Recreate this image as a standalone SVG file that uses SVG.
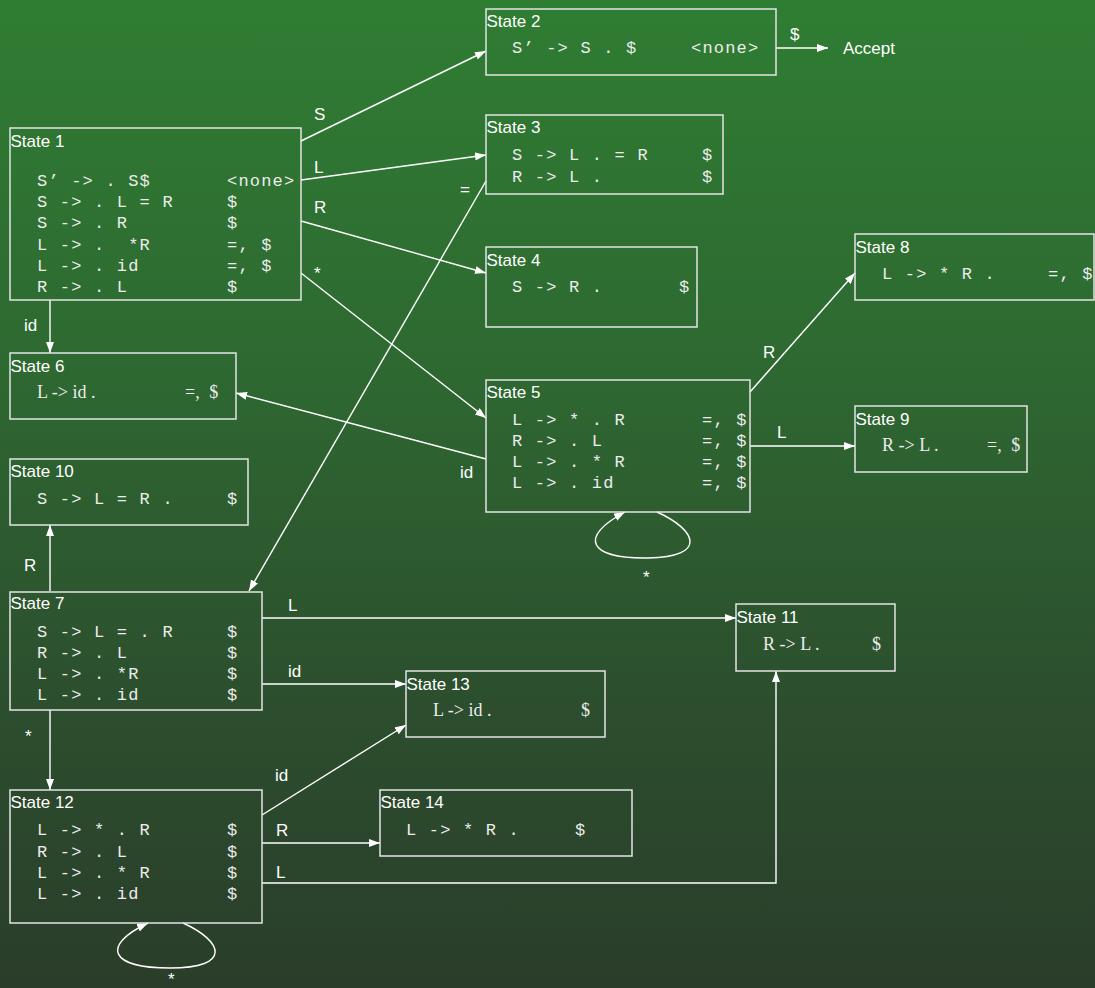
<svg xmlns="http://www.w3.org/2000/svg" width="1095" height="988" viewBox="0 0 1095 988" xml:space="preserve">
<defs>
<linearGradient id="bg" x1="0" y1="0" x2="0" y2="1">
<stop offset="0" stop-color="#2f7d33"/>
<stop offset="0.35" stop-color="#2e6a31"/>
<stop offset="0.7" stop-color="#2c4f2e"/>
<stop offset="1" stop-color="#2a3d2a"/>
</linearGradient>
<marker id="ah" markerUnits="userSpaceOnUse" markerWidth="12" markerHeight="8" refX="11" refY="4" orient="auto">
<path d="M0,0 L11,4 L0,8 z" fill="#ffffff"/>
</marker>
</defs>
<style>
.box{fill:none;stroke:#e4e4e4;stroke-width:1.5}
.title{font-family:"Liberation Sans",Arial,sans-serif;font-size:17px;fill:#ffffff}
.mono{font-family:"Liberation Mono","Courier New",monospace;font-size:17px;letter-spacing:1.2px;fill:#ececec;white-space:pre}
.serif{font-family:"Liberation Serif","Times New Roman",serif;font-size:18px;fill:#ececec;white-space:pre}
.lbl{font-family:"Liberation Sans",Arial,sans-serif;font-size:17px;fill:#ffffff}
.edge{fill:none;stroke:#ffffff;stroke-width:1.4;marker-end:url(#ah)}
</style>
<rect x="0" y="0" width="1095" height="988" fill="url(#bg)"/>

<g id="edges">
<line class="edge" x1="301" y1="141" x2="486" y2="51"/>
<line class="edge" x1="301" y1="180" x2="486" y2="155"/>
<line class="edge" x1="301" y1="221" x2="486" y2="273"/>
<line class="edge" x1="301" y1="273" x2="486" y2="418"/>
<line class="edge" x1="486" y1="459" x2="236" y2="393"/>
<line class="edge" x1="486" y1="181" x2="249" y2="591"/>
<line class="edge" x1="50" y1="300" x2="50" y2="353"/>
<line class="edge" x1="50" y1="591" x2="50" y2="525"/>
<line class="edge" x1="750" y1="392" x2="855" y2="273"/>
<line class="edge" x1="750" y1="446" x2="855" y2="446"/>
<line class="edge" x1="262" y1="618" x2="736" y2="618"/>
<line class="edge" x1="262" y1="684" x2="406" y2="684"/>
<line class="edge" x1="50" y1="710" x2="50" y2="790"/>
<line class="edge" x1="262" y1="815" x2="406" y2="725"/>
<line class="edge" x1="262" y1="843" x2="380" y2="843"/>
<polyline class="edge" points="262,883 776,883 776,671"/>
<line class="edge" x1="776" y1="48" x2="828" y2="48"/>
<path class="edge" d="M657,512 C697,530 708,557 648,558 C588,559 578,537 625,512"/>
<path class="edge" d="M183,923 C223,941 233,968 170,968 C110,968 100,946 148,923"/>
<text class="lbl" x="314" y="120">S</text>
<text class="lbl" x="314" y="173">L</text>
<text class="lbl" x="314" y="213">R</text>
<text class="lbl" x="314" y="279">*</text>
<text class="lbl" x="460" y="478">id</text>
<text class="lbl" x="460" y="195">=</text>
<text class="lbl" x="24" y="331">id</text>
<text class="lbl" x="24" y="571">R</text>
<text class="lbl" x="763" y="358">R</text>
<text class="lbl" x="777" y="438">L</text>
<text class="lbl" x="288" y="611">L</text>
<text class="lbl" x="288" y="677">id</text>
<text class="lbl" x="25" y="742">*</text>
<text class="lbl" x="275" y="781">id</text>
<text class="lbl" x="276" y="836">R</text>
<text class="lbl" x="276" y="878">L</text>
<text class="lbl" x="790" y="40">$</text>
<text class="lbl" x="843" y="54">Accept</text>
<text class="lbl" x="643" y="583">*</text>
<text class="lbl" x="168" y="985">*</text>
</g>

<g id="state1">
<rect class="box" x="10" y="128" width="291" height="172"/>
<text class="title" x="10.5" y="147">State 1</text>
<text class="mono" x="37" y="186">S’ -&gt; . S$</text>
<text class="mono" x="227" y="186">&lt;none&gt;</text>
<text class="mono" x="37" y="207">S -&gt; . L = R</text>
<text class="mono" x="227" y="207">$</text>
<text class="mono" x="37" y="228">S -&gt; . R</text>
<text class="mono" x="227" y="228">$</text>
<text class="mono" x="37" y="250">L -&gt; .  *R</text>
<text class="mono" x="227" y="250">=, $</text>
<text class="mono" x="37" y="271">L -&gt; . id</text>
<text class="mono" x="227" y="271">=, $</text>
<text class="mono" x="37" y="292">R -&gt; . L</text>
<text class="mono" x="227" y="292">$</text>
</g>

<g id="state2">
<rect class="box" x="486" y="9" width="290" height="66"/>
<text class="title" x="486.5" y="27">State 2</text>
<text class="mono" x="512" y="53">S’ -&gt; S . $</text>
<text class="mono" x="691" y="53">&lt;none&gt;</text>
</g>

<g id="state3">
<rect class="box" x="486" y="115" width="237" height="79"/>
<text class="title" x="486.5" y="133">State 3</text>
<text class="mono" x="512" y="160">S -&gt; L . = R</text>
<text class="mono" x="702" y="160">$</text>
<text class="mono" x="512" y="182">R -&gt; L .</text>
<text class="mono" x="702" y="182">$</text>
</g>

<g id="state4">
<rect class="box" x="486" y="247" width="211" height="80"/>
<text class="title" x="486.5" y="266">State 4</text>
<text class="mono" x="512" y="292">S -&gt; R .</text>
<text class="mono" x="679" y="292">$</text>
</g>

<g id="state5">
<rect class="box" x="486" y="380" width="264" height="132"/>
<text class="title" x="486.5" y="398">State 5</text>
<text class="mono" x="512" y="425">L -&gt; * . R</text>
<text class="mono" x="702" y="425">=, $</text>
<text class="mono" x="512" y="446">R -&gt; . L</text>
<text class="mono" x="702" y="446">=, $</text>
<text class="mono" x="512" y="467">L -&gt; . * R</text>
<text class="mono" x="702" y="467">=, $</text>
<text class="mono" x="512" y="488">L -&gt; . id</text>
<text class="mono" x="702" y="488">=, $</text>
</g>

<g id="state6">
<rect class="box" x="10" y="353" width="226" height="66"/>
<text class="title" x="10.5" y="372">State 6</text>
<text class="serif" x="37" y="398">L -&gt; id .</text>
<text class="serif" x="185" y="398">=, <tspan dx="5">$</tspan></text>
</g>

<g id="state7">
<rect class="box" x="10" y="592" width="252" height="118"/>
<text class="title" x="10.5" y="609">State 7</text>
<text class="mono" x="37" y="637">S -&gt; L = . R</text>
<text class="mono" x="227" y="637">$</text>
<text class="mono" x="37" y="658">R -&gt; . L</text>
<text class="mono" x="227" y="658">$</text>
<text class="mono" x="37" y="679">L -&gt; . *R</text>
<text class="mono" x="227" y="679">$</text>
<text class="mono" x="37" y="700">L -&gt; . id</text>
<text class="mono" x="227" y="700">$</text>
</g>

<g id="state8">
<rect class="box" x="855" y="234" width="239" height="66"/>
<text class="title" x="855.5" y="253">State 8</text>
<text class="mono" x="882" y="279">L -&gt; * R .</text>
<text class="mono" x="1048" y="279">=, $</text>
</g>

<g id="state9">
<rect class="box" x="855" y="406" width="172" height="66"/>
<text class="title" x="855.5" y="425">State 9</text>
<text class="serif" x="882" y="451">R -&gt; L .</text>
<text class="serif" x="987" y="451">=, <tspan dx="5">$</tspan></text>
</g>

<g id="state10">
<rect class="box" x="10" y="459" width="238" height="66"/>
<text class="title" x="10.5" y="477">State 10</text>
<text class="mono" x="37" y="504">S -&gt; L = R .</text>
<text class="mono" x="227" y="504">$</text>
</g>

<g id="state11">
<rect class="box" x="736" y="604" width="159" height="67"/>
<text class="title" x="736.5" y="623">State 11</text>
<text class="serif" x="763" y="650">R -&gt; L .</text>
<text class="serif" x="872" y="650">$</text>
</g>

<g id="state12">
<rect class="box" x="10" y="790" width="252" height="133"/>
<text class="title" x="10.5" y="808">State 12</text>
<text class="mono" x="37" y="835">L -&gt; * . R</text>
<text class="mono" x="227" y="835">$</text>
<text class="mono" x="37" y="857">R -&gt; . L</text>
<text class="mono" x="227" y="857">$</text>
<text class="mono" x="37" y="878">L -&gt; . * R</text>
<text class="mono" x="227" y="878">$</text>
<text class="mono" x="37" y="899">L -&gt; . id</text>
<text class="mono" x="227" y="899">$</text>
</g>

<g id="state13">
<rect class="box" x="406" y="671" width="199" height="66"/>
<text class="title" x="406.5" y="690">State 13</text>
<text class="serif" x="433" y="716">L -&gt; id .</text>
<text class="serif" x="581" y="716">$</text>
</g>

<g id="state14">
<rect class="box" x="380" y="790" width="252" height="66"/>
<text class="title" x="380.5" y="808">State 14</text>
<text class="mono" x="406" y="835">L -&gt; * R .</text>
<text class="mono" x="575" y="835">$</text>
</g>
</svg>
